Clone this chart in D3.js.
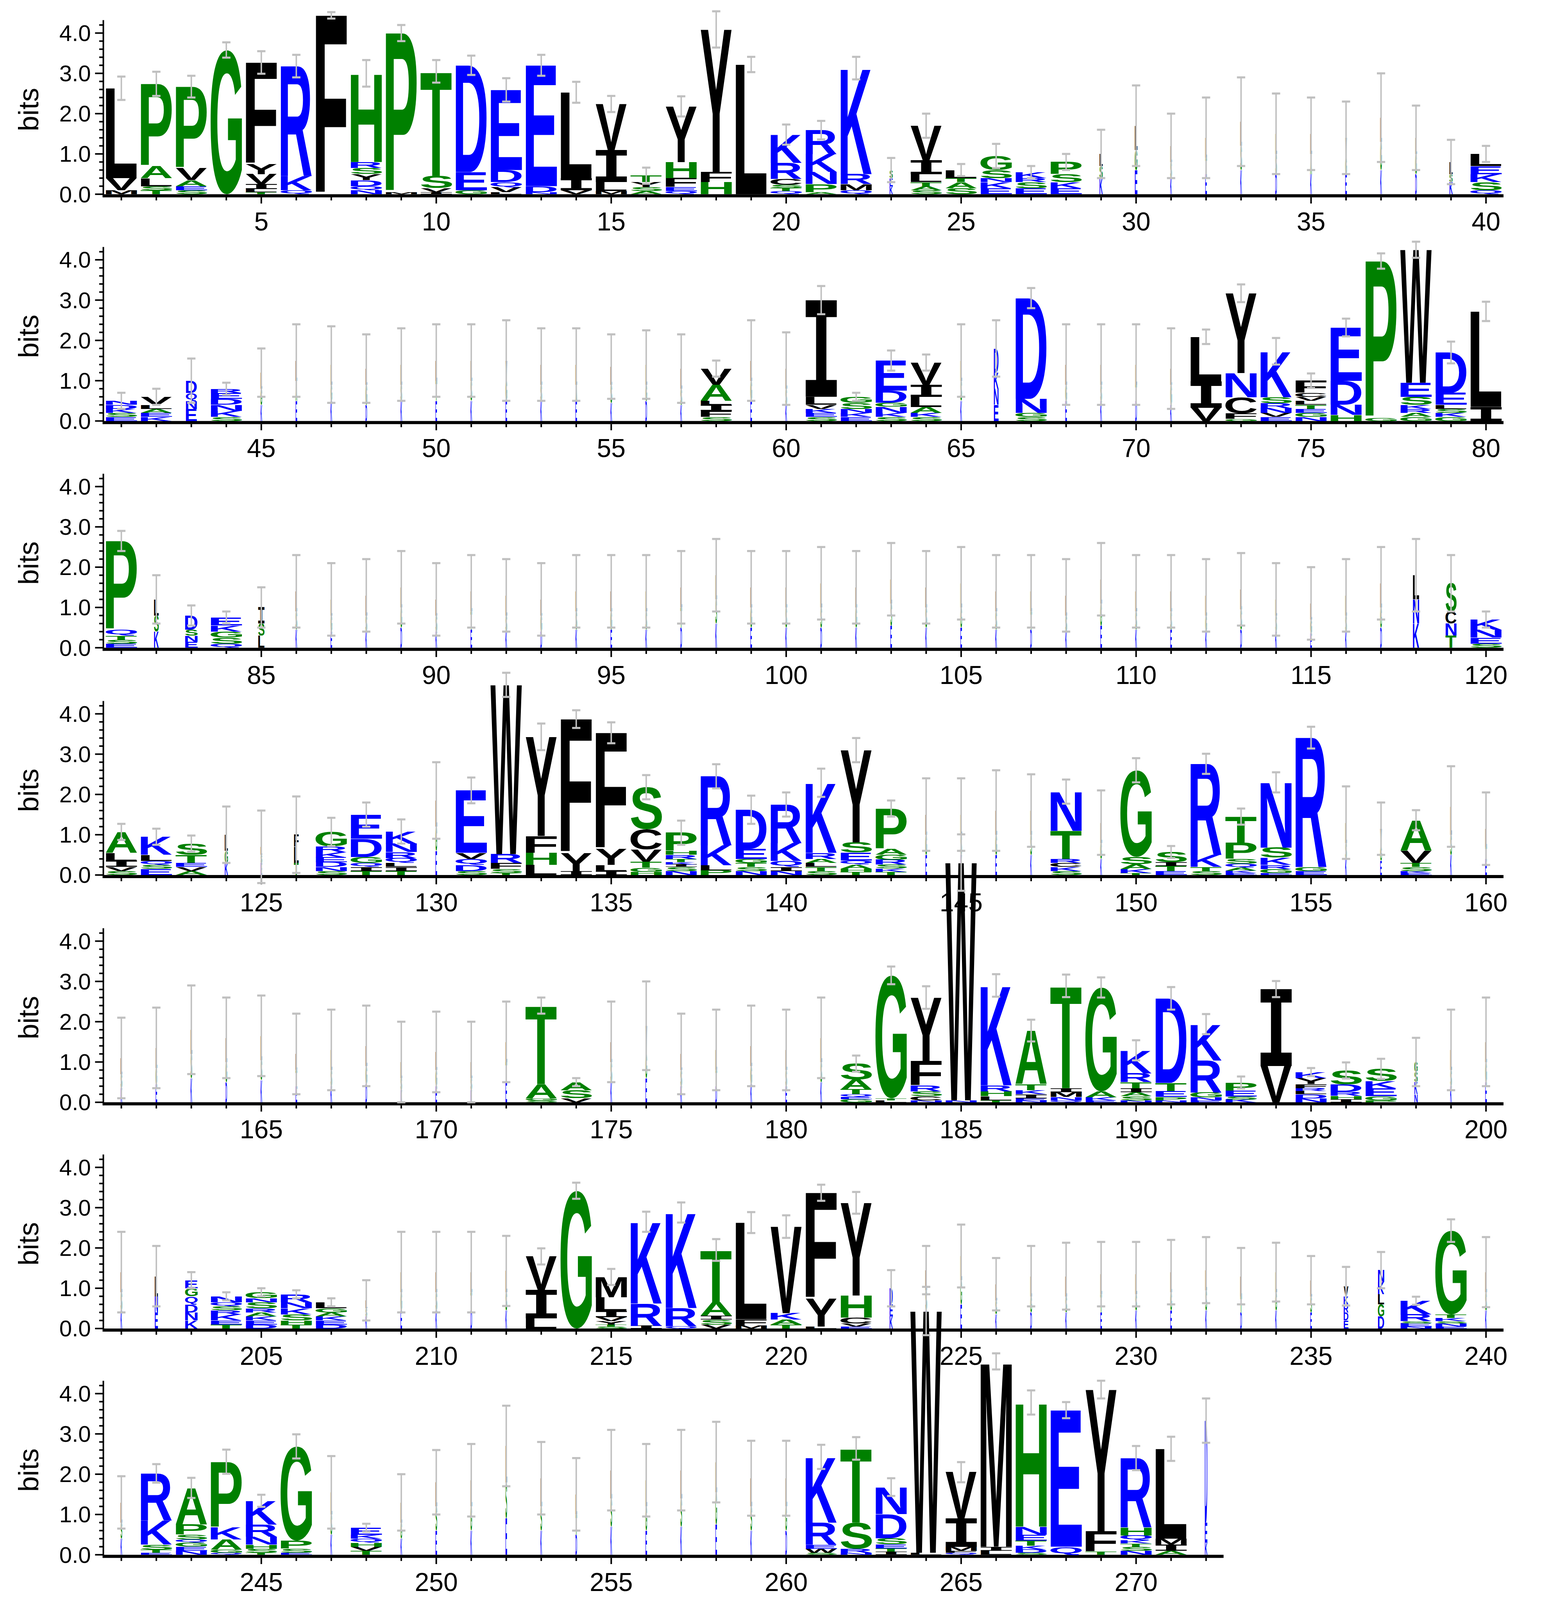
<!DOCTYPE html>
<html><head><meta charset="utf-8">
<script src="https://cdn.jsdelivr.net/npm/d3@7"></script>
<style>html,body{margin:0;padding:0;background:#fff}</style>
</head><body>
<svg id="chart"></svg>
<script>
// Each entry: stack letters bottom->top "LETTERbits", then "|errorHalfWidth", optional "|widthFraction"
const row1 = ["M.1 V.3 L2.23|.29","T.1 S.1 L.2 A.3 P2.04|.3","S.1 E.1 A.15 V.3 P2.02|.27","G3.58|.19","T.05 L.08 I.12 V.25 Y.25 F2.52|.28","Q.1 K.35 R2.73|.28","F4.44|.08","N.1 Q.1 D.15 Y.15 S.15 R.15 H2.2|.33","M.05 P3.95|.2","I.05 V.1 S.3 T2.6|.28","G.1 E.45 D2.65|.24","L.05 V.12 Q.13 D.3 E1.99|.29","N.05 D.15 E3.0|.26","V.1 I.3 L2.13|.26","M.08 L.22 I.8 V1.14|.2","A.08 S.1 Y.12 T.16|.2","Q.08 E.1 F.22 H.4 Y1.38|.25","H.3 F.25 Y3.54|.45","L3.22|.19","Q.08 T.08 S.07 C.15 R.4 K.7|.25","A.05 P.2 N.3 K.45 R.59|.23","Q.1 M.15 R.25 K2.63|.28","K.2 E.2 S.2|.3|.1","S.1 A.1 T.1 L.2 I.35 V.85|.3","S.15 A.15 T.1 L.2|.15","E.15 K.15 N.1 S.2 G.35|.3","E.15 S.15 R.1 K.15|.15","E.15 K.15 S.2 P.3|.2","K.4 S.3 L.3|.6|.1","E.6 G.5 L.6|1.0|.08","K.4 S.4 L.4|.8|.05","E.5 T.4 L.5|1.0|.05","K.6 S.6 L.6|1.1|.05","D.5 S.5 L.5|1.0|.05","K.5 A.5 L.5|.9|.05","E.5 G.4 V.5|.9|.05","K.6 G.7 L.6|1.1|.05","D.5 G.5 L.4|.8|.05","K.3 S.2 L.3|.55|.1","Q.1 S.2 K.2 E.2 L.3|.2"];
const row2 = ["E.1 S.1 K.1 D.1 N.1|.2","K.1 E.1 A.1 L.1 V.2|.2","E.3 N.2 Q.2 D.3|.55|.35","S.1 K.15 N.15 D.15 E.15 R.1|.15","K.4 G.4 L.4|.6|.05","E.5 A.5 L.5|.9|.05","K.5 G.4 L.5|.95|.05","D.4 G.5 L.4|.85|.05","K.5 S.4 L.5|.9|.05","E.5 T.5 L.5|.9|.05","K.5 S.5 L.5|.9|.05","E.5 G.5 V.5|1.0|.05","K.5 S.4 L.5|.9|.05","E.5 A.4 L.5|.9|.05","K.45 S.45 L.45|.8|.05","D.5 G.4 L.5|.85|.05","K.4 S.4 L.5|.85|.05","S.1 F.15 I.15 L.1 A.4 V.4|.2","E.5 G.5 L.5|1.0|.05","K.4 S.4 L.5|.9|.05","S.1 E.1 K.1 V.1 L.2 I2.4|.35","E.1 K.1 N.1 S.15 G.15|.1","S.1 K.1 N.15 G.1 D.3 E.75|.25","S.1 K.1 A.15 L.25 I.3 V.55|.2","K.5 S.5 L.5|.9|.05","E.4 N.4 K.4 D.6|.7|.15","S.1 G.1 N.35 D2.5|.25","E.5 G.4 L.5|1.0|.05","K.5 S.4 L.5|1.0|.05","D.5 T.4 L.5|1.0|.05","K.4 G.5 L.4|1.0|.05","V.33 I.65 L1.11|.18","G.05 F.14 C.4 N.6 Y1.98|.22","E.1 V.1 N.12 R.12 S.15 K1.14|.33","N.1 G.1 E.1 T.1 L.1 V.1 C.1 F.3|.18","H.15 N.25 D.6 E1.32|.22","G.08 P3.89|.19","G.1 A.1 R.1 K.1 S.2 E.35 W3.3|.2","G.1 K.1 S.1 L.1 E.3 D1.0|.27","I.35 L2.37|.24"];
const row3 = ["E.1 S.1 T.1 Q.15 P2.2|.25","K.4 S.4 L.4|.6|.15","E.15 N.15 S.15 D.35|.25|.4","Q.1 S.15 G.15 K.15 E.2|.15","L.3 S.3 I.4|.5|.2","K.45 S.45 L.5|.9|.05","E.4 G.4 L.4|.9|.05","K.4 S.4 L.5|.9|.05","D.5 G.5 L.5|.9|.05","K.4 S.4 L.4|.9|.05","E.45 T.45 L.5|.9|.05","K.4 S.4 L.5|.9|.05","D.4 G.4 L.4|.9|.05","K.45 S.45 L.5|.9|.05","E.45 G.45 L.5|.9|.05","K.45 S.45 L.5|.9|.05","D.5 T.5 L.5|.9|.05","K.6 S.6 L.6|.9|.05","E.5 G.5 L.5|.9|.05","K.5 S.5 L.5|.9|.05","D.5 S.5 L.6|.9|.05","K.5 G.5 L.5|.9|.05","E.55 S.55 L.6|.9|.05","K.5 S.5 L.5|.9|.05","E.5 G.5 L.6|.9|.05","K.45 S.45 L.5|.9|.05","D.45 T.45 L.5|.9|.05","K.4 S.4 L.5|.9|.05","E.55 G.55 L.6|.9|.05","K.45 S.45 L.5|.9|.05","E.45 S.45 L.5|.9|.05","K.4 G.4 L.5|.9|.05","D.45 S.5 L.5|.9|.05","K.4 S.4 L.4|.9|.05","E.35 G.35 L.4|.9|.05","K.4 S.4 L.5|.9|.05","D.5 G.5 L.6|.9|.05","K.6 N.6 L.6|.9|.2","T.3 N.3 C.3 S.7|.7|.35","S.1 E.15 N.2 K.25|.2"];
const row4 = ["S.1 V.1 I.15 L.2 A.52|.2","E.15 S.1 Q.1 L.15 K.45|.2","A.1 V.1 E.1 T.2 S.28|.2","K.3 G.3 L.4|.7|.1","E.3 S.2 L.2|.9|.05","T.3 L.4 F.3|.95|.15","S.1 N.1 D.12 E.12 K.12 R.15 G.36|.35","T.1 I.1 Q.1 G.15 D.45 E.6|.3","T.1 I.1 L.1 Q.12 R.15 N.21 K.3|.3","E.6 G.6 L.65|.95|.05","S.1 D.15 Q.15 V.15 E1.55|.32","T.05 S.1 F.15 R.22 W4.2|.3","L.25 H.3 F.42 Y2.46|.33","I.1 Y.45 F3.32|.22","I.1 L.15 Y.4 F2.88|.26","H.08 G.1 T.15 V.3 C.5 S1.05|.3","N.1 S.1 I.06 K.06 T.08 R.1 H.1 P.45|.3","P.12 L.12 K.5 R1.71|.3","N.1 S.1 T.1 G.1 E.25 D.97|.35","N.1 I.1 Q.15 K.45 R.95|.3","S.1 T.1 L.1 A.1 R.15 K1.74|.35","T.08 H.08 A.1 Q.1 E.2 S.25 Y2.29|.3","T.08 K.08 S.1 R.12 G.12 A.15 P1.0|.2","E.5 G.5 L.5|.9|.05","K.5 S.5 L.5|.9|.05","E.5 G.5 L.6|1.0|.05","K.5 S.5 L.6|.9|.05","S.1 K.1 C.1 R.1 T.7 N.97|.3","K.4 G.4 L.5|.8|.05","T.05 K.1 A.12 S.18 G2.15|.3","E.1 T.12 I.1 S.25|.15","S.1 T.1 K.3 R2.26|.25","E.05 K.06 A.07 Q.1 S.12 P.4 T.65|.2","E.05 G.1 R.1 K.18 S.25 N1.62|.25","E.1 G.1 R3.21|.27","K.4 S.4 L.5|.9|.05","E.35 G.35 V.45|.65|.05","E.05 K.05 S.1 T.1 V.3 A.76|.25","K.5 S.5 L.7|1.0|.05","E.4 T.3 L.45|.9|.05"];
const row5 = ["K.35 S.35 L.4|1.0|.05","E.45 G.4 L.5|1.0|.05","K.6 S.6 L.6|1.1|.05","D.5 G.5 L.6|1.0|.05","K.55 S.5 L.6|1.0|.05","E.4 T.4 L.4|1.0|.05","K.4 S.4 L.5|1.0|.05","D.45 G.45 L.5|1.0|.05","K.3 S.3 L.4|1.0|.05","E.4 G.4 L.45|1.0|.05","K.3 S.3 L.4|1.0|.05","E.5 T.5 L.5|1.0|.05","S.05 G.05 A.35 T1.95|.2","V.1 S.2 A.2|.1","K.5 S.5 L.5|1.0|.05","E.6 G.6 V.7|1.1|.05","K.4 S.4 L.4|1.0|.05","D.4 T.4 L.5|1.0|.05","K.45 G.45 L.5|1.0|.05","E.4 S.4 L.5|1.0|.05","K.5 S.5 L.6|1.0|.05","G.08 E.06 Q.06 T.12 A.25 S.39|.2","L.05 T.05 G3.05|.22","N.05 C.1 S.12 R.15 F.6 Y1.58|.28","N.05 W5.9|.7","T.05 L.1 H.12 R.15 K2.48|.28","N.05 E.05 I.1 K.1 T.15 A1.33|.27","Q.05 N.08 M.12 I.1 T2.54|.28","E.05 K.07 A.15 G2.58|.25","N.05 S.1 A.1 I.1 T.15 R.22 K.57|.25","N.05 P.08 E.15 T.2 D2.1|.28","E.05 N.07 G.12 R.8 K.9|.25","K.07 S.07 E.15 P.2|.15","V.9 I1.91|.2","N.1 D.1 L.08 R.07 F.1 Y.15 K.15|.1","I.08 H.08 R.1 D.18 S.35|.2","P.05 G.1 E.2 K.18 S.3|.25","N.2 K.3 S.25 G.25|.6|.1","K.4 S.4 L.5|1.0|.05","E.5 G.5 L.5|1.1|.05"];
const row6 = ["K.45 S.45 L.5|1.0|.05","E.4 N.4 L.5|.75|.1","K.2 N.2 D.2 Q.2 G.2 E.2|.2|.4","T.1 E.1 K.15 R.1 S.1 Q.1 N.15|.1","D.1 E.1 K.1 A.1 R.1 S.15 N.1 G.15|.1","T.1 H.1 S.15 K.15 N.15 R.2|.1","D.1 E.1 K.1 A.1 G.1 L.15|.1","K.3 S.2 L.2|.5|.05","E.45 G.45 L.5|1.0|.05","K.45 S.45 L.5|1.0|.05","D.45 T.45 L.5|1.0|.05","K.45 S.45 L.53|.87|.05","L.25 I.7 V.84|.2","G3.42|.2","S.05 T.05 Y.08 V.1 I.15 L.35 M.5|.2","I.07 R.55 K2.03|.25","Q.06 R.45 K2.37|.25","V.1 S.12 I.1 A.34 T1.29|.27","M.08 F.15 L2.4|.26","T.1 A.12 K.16 V2.15|.28","L.05 Y.7 F2.62|.2","E.05 V.07 C.15 H.55 Y2.3|.27","K.3 E.3 D.4|.45|.1","K.45 S.5 L.5|.6|.05","E.6 G.6 L.6|.78|.05","K.35 S.35 L.4|.65|.05","D.4 G.4 L.5|.75|.05","K.4 S.4 L.5|.83|.05","E.4 T.45 L.5|.8|.05","K.45 S.4 L.5|.8|.05","E.45 G.45 L.5|.8|.05","K.45 S.5 L.5|.82|.05","D.4 T.4 L.5|.7|.05","K.45 G.45 L.5|.73|.05","E.4 S.4 L.4|.6|.05","E.2 D.2 R.2 K.2 V.25|.48|.15","D.3 G.3 L.25 K.3 N.3|.45|.2","N.05 E.08 S.05 R.17 K.34|.1","E.05 N.08 S.05 K.08 T.09 G2.08|.28","K.45 S.45 L.5|.87|.05"];
const row7 = ["K.4 S.4 L.5|.65|.05","E.05 T.08 S.12 K.6 R1.17|.23","N.1 E.1 G.1 Q.08 S.12 P.25 A.91|.25","Q.05 G.08 A.25 K.3 P1.63|.3","T.05 S.1 H.1 N.2 R.3 K.59|.15","E.05 S.1 P.2 G2.34|.3","K.5 S.5 L.55|.9|.05","T.1 V.1 H.1 Q.1 K.1 E.17|.1","K.4 G.4 L.5|.7|.05","E.6 S.6 L.6|.8|.05","K.6 G.6 L.65|.9|.05","E.9 S.9 L.9|1.0|.05","K.6 S.6 L.7|.9|.05","D.5 T.5 L.5|.9|.05","K.7 S.7 L.7|1.0|.05","E.6 G.6 L.65|.9|.05","K.7 S.7 L.7|1.0|.05","E.75 G.8 L.75|1.0|.05","K.6 S.6 L.7|.93|.05","D.6 G.6 L.7|.93|.05","S.05 W.1 E.1 R.55 K1.63|.3","N.05 R.1 S.65 T1.84|.28","I.08 T.08 E.1 S.15 D.6 N.67|.22","L.05 W6.0|.6","Q.05 F.05 M.1 I.7 V1.15|.25","L.1 I.1 M4.6|.2","S.05 D.08 K.1 T.12 E.15 N.2 H3.08|.3","Q.2 E3.39|.2","T.08 F.5 Y3.52|.22","N.1 S.1 T.08 K.08 Q.12 H.2 R1.72|.3","A.1 I.15 M.15 L2.23|.3","K.3 E.5 D2.53|.55|.08"];
const rows = [row1,row2,row3,row4,row5,row6,row7];
const rowStart = [1,41,81,121,161,201,241];
const yTicks = [0,1,2,3,4];
const yTickLabels = ["0.0","1.0","2.0","3.0","4.0"];
const colorGroups = {blue:"RKDENQ", green:"SGHTAP", black:"YVMCLFIW"};

const W=1500, H=4167*1500/3967;
const svg=d3.select("#chart").attr("width",3967).attr("height",4167).attr("viewBox",`0 0 ${W} ${H}`);
svg.append("rect").attr("width",W).attr("height",H).attr("fill","#fff");
const col = ch => colorGroups.blue.includes(ch)?"#0000ff":colorGroups.green.includes(ch)?"#008000":"#000000";
const FONT="Liberation Sans, Arial, sans-serif";
const fam = ch => ch==="I" ? "DejaVu Sans Mono" : "Liberation Sans";
const cvs=document.createElement("canvas").getContext("2d");
const met={};
function m(ch){ if(!met[ch]){cvs.font=`bold 100px '${fam(ch)}'`;const t=cvs.measureText(ch);met[ch]={l:t.actualBoundingBoxLeft,r:t.actualBoundingBoxRight,a:t.actualBoundingBoxAscent,d:t.actualBoundingBoxDescent};} return met[ch];}
function parse(s){const [st,e,w]=s.split("|");return {stack:st.trim().split(/\s+/).map(t=>({c:t[0],v:+t.slice(1)})),e:+e,w:w?+w:1};}

const baselines=[188,407.5,627,847,1067,1286,1505];
const bit=39;
rows.forEach((row,ri)=>{
  const base=baselines[ri], s0=rowStart[ri];
  const x=d3.scaleLinear().domain([s0-0.5,s0+39.5]).range([100.5,1455]);
  const y=d3.scaleLinear().domain([0,1]).range([base,base-bit]);
  const cw=x(s0+1)-x(s0);
  const g=svg.append("g");
  const xEnd=x(s0+row.length-0.5);
  g.append("line").attr("x1",100).attr("x2",xEnd).attr("y1",base+1.5).attr("y2",base+1.5).attr("stroke","#000").attr("stroke-width",3);
  g.append("line").attr("x1",100).attr("x2",100).attr("y1",base+3).attr("y2",y(4.32)).attr("stroke","#000").attr("stroke-width",1.5);
  d3.range(0,4.31,0.2).forEach(v=>{const maj=Math.abs(v-Math.round(v))<1e-6;
    g.append("line").attr("x1",100).attr("x2",maj?92:96).attr("y1",y(v)).attr("y2",y(v)).attr("stroke","#000").attr("stroke-width",1.5);});
  yTicks.forEach((v,i)=>g.append("text").attr("x",88).attr("y",y(v)).attr("dy","0.35em").attr("text-anchor","end").attr("font-family",FONT).attr("font-size",22).text(yTickLabels[i]));
  g.append("text").attr("transform",`translate(37,${base-82}) rotate(-90)`).attr("text-anchor","middle").attr("font-family",FONT).attr("font-size",27).text("bits");
  row.forEach((s,i)=>{const p=s0+i, cx=x(p);
    g.append("line").attr("x1",cx).attr("x2",cx).attr("y1",base+3).attr("y2",base+(p%5===0?9:6)).attr("stroke","#000").attr("stroke-width",1.5);
    if(p%5===0) g.append("text").attr("x",cx).attr("y",base+35).attr("text-anchor","middle").attr("font-family",FONT).attr("font-size",25).text(p);
  });
  row.forEach((s,i)=>{const p=s0+i, cx=x(p), d=parse(s); const lw=cw*0.9*d.w; let acc=0;
    d.stack.forEach(L=>{const mm=m(L.c); const y0=y(acc+L.v), y1=y(acc); acc+=L.v;
      const sx=lw/(mm.l+mm.r), sy=(y1-y0)/(mm.a+mm.d);
      g.append("text").attr("transform",`translate(${cx-lw/2},${y0}) scale(${sx},${sy})`).attr("x",mm.l).attr("y",mm.a)
        .attr("font-family",fam(L.c)).attr("font-weight","bold").attr("font-size",100).attr("fill",col(L.c)).text(L.c);});
    const t=acc, e=d.e;
    const eg=g.append("g").attr("stroke","#c0c0c0").attr("stroke-width",1.4);
    eg.append("line").attr("x1",cx).attr("x2",cx).attr("y1",y(t-e)).attr("y2",y(t+e));
    [t-e,t+e].forEach(v=>eg.append("line").attr("x1",cx-4).attr("x2",cx+4).attr("y1",y(v)).attr("y2",y(v)).attr("stroke-width",2));
  });
});
svg.append("text").attr("x",1455).attr("y",1562).attr("text-anchor","end").attr("font-family",FONT).attr("font-size",17).text("WebLogo 3.4");
</script>
</body></html>
